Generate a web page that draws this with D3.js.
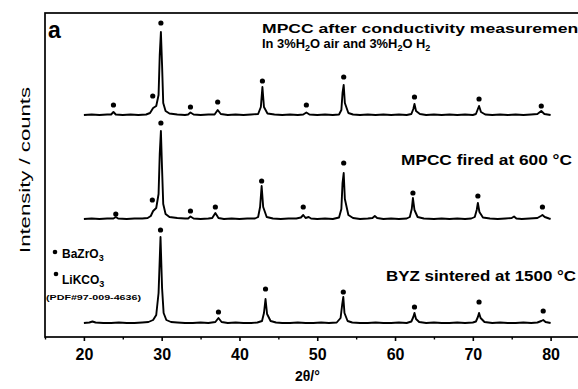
<!DOCTYPE html>
<html>
<head>
<meta charset="utf-8">
<script src="https://cdn.jsdelivr.net/npm/d3@7"></script>
<style>
  html, body { margin: 0; padding: 0; background: #fff; }
  svg { display: block; }
  text { font-family: "Liberation Sans", Arial, sans-serif; fill: #000; }
</style>
</head>
<body>
<svg id="chart" width="578" height="389"></svg>
<script>
// ---------- data (2θ in degrees, relative intensity in counts) ----------
const seriesNames = ["MPCC after conductivity", "MPCC fired at 600 °C", "BYZ sintered at 1500 °C"];
const seriesOffsets = [222, 118, 14];

const afterPattern = [
  [20,0],[21,0.5],[22,0],[23,0.5],[23.5,0.5],[23.8,3],[24.1,0.5],[25,0],[26,0.5],[27,0],[28,0.5],
  [28.5,2],[28.9,7],[29.3,9],[29.6,20],[29.75,60],[29.9,83],[30.05,50],[30.2,12],[30.5,4],[31,1.5],
  [32,0.5],[33,0],[33.4,0.5],[33.7,2.5],[34.1,0.5],[35,0],[36,0.5],[36.8,0.5],[37.2,5],[37.6,1],
  [38.5,0],[39.5,0.5],[40.5,0],[41.5,0.5],[42.4,1],[42.75,8],[42.95,28],[43.15,8],[43.6,1.5],
  [44.5,0.5],[45.5,0],[46.5,0.5],[47.5,0],[48.2,0.5],[48.6,2.5],[49,0.5],[50,0],[51,0.5],[52,0],
  [52.8,0.5],[53.1,5],[53.25,22],[53.4,30],[53.55,12],[54,2],[54.6,0.5],[55.5,0],[56.5,0.5],
  [57.5,0],[58.5,0.5],[59.5,0],[60.5,0.5],[61.5,0],[62.1,1],[62.35,6],[62.5,11],[62.7,4],[63.2,1],
  [64,0],[65,0.5],[66,0],[67,0.5],[68,0],[69,0.5],[70,0],[70.4,1],[70.65,6],[70.8,9],[71.05,3],
  [71.6,0.5],[72.5,0],[73.5,0.5],[74.5,0],[75.5,0.5],[76.5,0],[77.5,0.5],[78.3,1],[78.8,4],
  [79.2,1],[80,0]
];
const firedPattern = [
  [20,0],[21,0.5],[22,0],[23,0.5],[23.8,0.5],[24.1,2],[24.4,0.5],[25.5,0],[26.5,0.5],[27.5,0.5],
  [28.2,1],[28.6,3],[28.9,8],[29.3,11],[29.6,25],[29.75,65],[29.9,88],[30.05,50],[30.2,15],
  [30.5,5],[31,2],[32,1],[33,0.5],[33.4,0.5],[33.7,2.5],[34.1,0.5],[35,0],[36,0.5],[36.5,1],
  [36.9,6],[37.3,1],[38,0],[39,0.5],[40,0],[41,0.5],[42,0.5],[42.4,2],[42.65,12],[42.85,33],
  [43.05,12],[43.5,2],[44.3,0.5],[45.3,0],[46.3,0.5],[47.3,0.5],[47.9,1.5],[48.2,4],[48.5,1],
  [48.9,2],[49.2,0.5],[50,0],[51,0.5],[52,0],[52.8,1.5],[53.1,10],[53.25,36],[53.4,46],[53.55,20],
  [54,4],[54.6,1],[55.5,0],[56.5,0.5],[57.1,1],[57.4,3],[57.7,1],[58.5,0],[59.5,0.5],[60.5,0],
  [61.5,0.5],[61.9,2],[62.15,10],[62.3,21],[62.5,9],[62.9,2],[63.7,0.5],[65,0],[66,0.5],[67,0],
  [68,0.5],[69,0],[69.8,0.5],[70.25,2],[70.5,9],[70.65,16],[70.85,7],[71.3,1.5],[72.2,0.5],
  [73.2,0],[74.2,0.5],[75,1],[75.3,2.5],[75.6,0.5],[76.3,0],[77.3,0.5],[78.3,1],[78.75,3],
  [78.95,4],[79.25,2],[79.8,0.5],[80,0]
];
const byzPattern = [
  [20,0],[20.7,0.5],[21.1,1.5],[21.5,0.5],[22.5,0],[23.5,0],[24.5,0.5],[25.5,0],[26.5,0],[27.5,0.5],
  [28.3,1],[28.9,3],[29.3,8],[29.6,30],[29.85,86],[30.05,35],[30.25,10],[30.6,3],[31.2,1],[32,0.5],
  [33,0],[34,0],[35,0.5],[36,0],[36.9,1],[37.3,5],[37.7,1],[38.5,0],[39.5,0.5],[40.5,0],[41.5,0],
  [42.3,0.5],[42.9,2],[43.15,10],[43.35,24],[43.55,9],[44,2],[44.7,0.5],[45.5,0],[46.5,0],[47.5,0.5],
  [48.5,0],[49.5,0],[50.5,0.5],[51.5,0],[52.5,0.5],[53,5],[53.2,18],[53.35,26],[53.5,10],[53.9,2],
  [54.5,0.5],[55.5,0],[56.5,0],[57.5,0.5],[58.5,0],[59.5,0],[60.5,0.5],[61.5,0],[62.1,1.5],
  [62.35,6],[62.5,10],[62.7,4],[63.1,1],[64,0],[65,0.5],[66,0],[67,0],[68,0.5],[69,0],[70,0.5],
  [70.4,1.5],[70.65,6],[70.8,10],[71,5],[71.5,1],[72.5,0],[73.5,0.5],[74.5,0],[75.5,0],[76.5,0.5],
  [77.5,0],[78.3,0.5],[78.8,2],[79.05,3],[79.35,1],[80,0]
];
const patterns = [afterPattern, firedPattern, byzPattern];

// phase markers: [2θ, marker height above the trace baseline]
const afterMarkers = [[23.8,10],[28.85,19],[29.9,92],[33.7,8],[37.2,13],[42.95,34],[48.6,10],[53.4,38],[62.5,18],[70.8,16],[78.8,9]];
const firedMarkers = [[24.1,5],[28.8,19],[29.9,96],[33.7,8],[36.9,12],[42.85,38],[48.2,12],[53.4,56],[62.3,26],[70.65,23],[78.95,12]];
const byzMarkers   = [[29.85,93],[37.3,11],[43.35,34],[53.35,31],[62.5,16],[70.8,21],[79.05,12]];
const markers = [afterMarkers, firedMarkers, byzMarkers];

const xTickValues = [20, 30, 40, 50, 60, 70, 80];
const xMinorTickValues = [15, 25, 35, 45, 55, 65, 75, 85];

// ---------- drawing ----------
const svg = d3.select("#chart");
const mLeft = 45, mRight = 589.5, mTop = 13, mBottom = 337;

const x = d3.scaleLinear().domain([15, 85]).range([mLeft, mRight]);
const y = d3.scaleLinear().domain([0, 324]).range([mBottom, mTop]);

svg.append("defs").append("clipPath").attr("id", "clip")
  .append("rect").attr("x", mLeft).attr("y", mTop).attr("width", mRight - mLeft).attr("height", mBottom - mTop);

const plot = svg.append("g").attr("clip-path", "url(#clip)");

const line = d3.line().x(d => x(d[0])).y(d => y(d[1]));

patterns.forEach((pat, i) => {
  const off = seriesOffsets[i];
  plot.append("path")
    .datum(pat.map(p => [p[0], p[1] + off]))
    .attr("d", line)
    .attr("fill", "none")
    .attr("stroke", "#000")
    .attr("stroke-width", 1.9)
    .attr("stroke-linejoin", "round");
  plot.selectAll(null).data(markers[i]).enter().append("circle")
    .attr("cx", d => x(d[0]))
    .attr("cy", d => y(d[1] + off))
    .attr("r", 2.6)
    .attr("fill", "#000");
});

// frame
svg.append("rect")
  .attr("x", mLeft).attr("y", mTop).attr("width", mRight - mLeft).attr("height", mBottom - mTop)
  .attr("fill", "none").attr("stroke", "#000").attr("stroke-width", 1.7);

// bottom axis
const ax = svg.append("g").attr("transform", `translate(0,${mBottom})`)
  .call(d3.axisBottom(x).tickValues(xTickValues).tickSize(4).tickSizeOuter(0).tickPadding(7.5).tickFormat(d3.format("d")));
ax.select(".domain").remove();
ax.selectAll("line").attr("stroke", "#000").attr("stroke-width", 1.6);
ax.selectAll("text").attr("font-size", 16).attr("font-weight", "bold")
  .attr("font-family", "Liberation Sans, Arial, sans-serif").attr("fill", "#000");

const axm = svg.append("g").attr("transform", `translate(0,${mBottom})`)
  .call(d3.axisBottom(x).tickValues(xMinorTickValues).tickSize(2.5).tickSizeOuter(0).tickFormat(""));
axm.select(".domain").remove();
axm.selectAll("line").attr("stroke", "#000").attr("stroke-width", 1.4);

// axis titles
svg.append("text").attr("x", 295).attr("y", 381)
  .attr("font-size", 14).attr("font-weight", "bold").text("2θ/°");

svg.append("text")
  .attr("transform", "translate(30,170) rotate(-90)")
  .attr("text-anchor", "middle")
  .attr("font-size", 15)
  .attr("textLength", 166).attr("lengthAdjust", "spacingAndGlyphs")
  .text("Intensity / counts");

// panel letter
svg.append("text").attr("x", 48).attr("y", 38)
  .attr("font-size", 23).attr("font-weight", "bold").text("a");

// sample labels
svg.append("text").attr("x", 262).attr("y", 33)
  .attr("font-size", 13).attr("font-weight", "bold")
  .attr("textLength", 322).attr("lengthAdjust", "spacingAndGlyphs")
  .text("MPCC after conductivity measurement");

const lab2 = svg.append("text").attr("x", 262).attr("y", 47.5)
  .attr("font-size", 12.9).attr("font-weight", "bold");
lab2.append("tspan").text("In 3%H");
lab2.append("tspan").attr("font-size", 9).attr("dy", 3.5).text("2");
lab2.append("tspan").attr("dy", -3.5).text("O air and 3%H");
lab2.append("tspan").attr("font-size", 9).attr("dy", 3.5).text("2");
lab2.append("tspan").attr("dy", -3.5).text("O H");
lab2.append("tspan").attr("font-size", 9).attr("dy", 3.5).text("2");

svg.append("text").attr("x", 401).attr("y", 165)
  .attr("font-size", 15).attr("font-weight", "bold")
  .attr("textLength", 171).attr("lengthAdjust", "spacingAndGlyphs")
  .text("MPCC fired at 600 °C");

svg.append("text").attr("x", 386).attr("y", 281)
  .attr("font-size", 15).attr("font-weight", "bold")
  .attr("textLength", 190).attr("lengthAdjust", "spacingAndGlyphs")
  .text("BYZ sintered at 1500 °C");

// legend
svg.append("circle").attr("cx", 55).attr("cy", 252).attr("r", 2.3).attr("fill", "#000");
const lg1 = svg.append("text").attr("x", 62).attr("y", 258).attr("font-size", 12).attr("font-weight", "bold");
lg1.append("tspan").text("BaZrO");
lg1.append("tspan").attr("font-size", 9).attr("dy", 3).text("3");

svg.append("circle").attr("cx", 56).attr("cy", 274).attr("r", 2.3).attr("fill", "#000");
const lg2 = svg.append("text").attr("x", 62).attr("y", 284).attr("font-size", 12).attr("font-weight", "bold");
lg2.append("tspan").text("LiKCO");
lg2.append("tspan").attr("font-size", 9).attr("dy", 3).text("3");

svg.append("text").attr("x", 46).attr("y", 300)
  .attr("font-size", 8).attr("font-weight", "bold")
  .attr("textLength", 95).attr("lengthAdjust", "spacingAndGlyphs")
  .text("(PDF#97-009-4636)");
</script>
</body>
</html>
